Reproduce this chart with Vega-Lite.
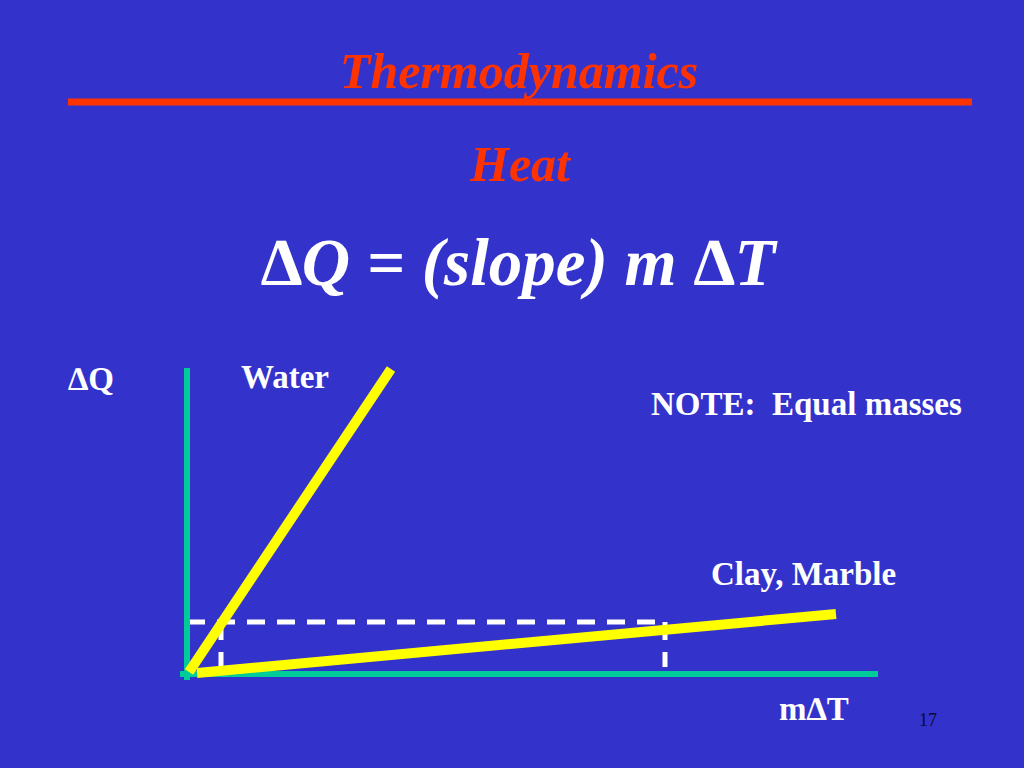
{
  "$schema": "https://vega.github.io/schema/vega-lite/v6.json",
  "width": 1024,
  "height": 768,
  "autosize": {"type": "fit", "contains": "padding"},
  "padding": 0,
  "background": "#3333CC",
  "config": {"view": {"stroke": null}},
  "datasets": {
    "segments": [
      {"kind": "axis", "name": "ΔQ axis", "x": 0, "y": -6, "x2": 0, "y2": 306},
      {"kind": "axis", "name": "mΔT axis", "x": -7, "y": 0, "x2": 691, "y2": 0},
      {"kind": "guide", "name": "equal ΔQ", "x": 0, "y": 52, "x2": 478, "y2": 52},
      {"kind": "guide", "name": "water ΔT", "x": 34, "y": 52, "x2": 34, "y2": 7},
      {"kind": "guide", "name": "clay ΔT", "x": 478, "y": 52, "x2": 478, "y2": 7},
      {"kind": "material", "name": "Water", "x": 2, "y": 2, "x2": 204, "y2": 305},
      {"kind": "material", "name": "Clay, Marble", "x": 10, "y": 1, "x2": 649, "y2": 60},
      {"kind": "underline", "name": "title rule", "x": -119, "y": 572, "x2": 785, "y2": 572}
    ],
    "labels": [
      {"kind": "title", "text": "Thermodynamics", "x": 332, "y": 586},
      {"kind": "subtitle", "text": "Heat", "x": 333, "y": 493},
      {"kind": "equation", "text": "∆Q = (slope) m ∆T", "x": 331, "y": 389},
      {"kind": "label", "text": "∆Q", "x": -119, "y": 284},
      {"kind": "label", "text": "Water", "x": 54, "y": 286},
      {"kind": "label", "text": "NOTE:\u00a0 Equal masses", "x": 464, "y": 259},
      {"kind": "label", "text": "Clay, Marble", "x": 524, "y": 89},
      {"kind": "label", "text": "m∆T", "x": 592, "y": -46},
      {"kind": "page", "text": "17", "x": 732, "y": -52}
    ]
  },
  "encoding": {
    "x": {"field": "x", "type": "quantitative", "scale": {"domain": [-187, 837], "nice": false, "zero": false}, "axis": null},
    "y": {"field": "y", "type": "quantitative", "scale": {"domain": [-94, 674], "nice": false, "zero": false}, "axis": null}
  },
  "layer": [
    {
      "data": {"name": "segments"},
      "transform": [{"filter": "datum.kind === 'underline'"}],
      "mark": {"type": "rule", "color": "#FF3300", "strokeWidth": 7},
      "encoding": {"x2": {"field": "x2"}, "y2": {"field": "y2"}}
    },
    {
      "data": {"name": "segments"},
      "transform": [{"filter": "datum.kind === 'guide'"}],
      "mark": {"type": "rule", "color": "#FFFFFF", "strokeWidth": 5, "strokeDash": [18, 12]},
      "encoding": {"x2": {"field": "x2"}, "y2": {"field": "y2"}}
    },
    {
      "data": {"name": "segments"},
      "transform": [{"filter": "datum.kind === 'axis'"}],
      "mark": {"type": "rule", "color": "#00CC99", "strokeWidth": 6},
      "encoding": {"x2": {"field": "x2"}, "y2": {"field": "y2"}}
    },
    {
      "data": {"name": "segments"},
      "transform": [{"filter": "datum.kind === 'material'"}],
      "mark": {"type": "rule", "color": "#FFFF00", "strokeWidth": 10, "strokeCap": "butt"},
      "encoding": {"x2": {"field": "x2"}, "y2": {"field": "y2"}}
    },
    {
      "data": {"name": "labels"},
      "transform": [{"filter": "datum.kind === 'title' || datum.kind === 'subtitle'"}],
      "mark": {"type": "text", "font": "Liberation Serif", "fontSize": 50, "fontWeight": "bold", "fontStyle": "italic", "color": "#FF3300", "align": "center", "baseline": "alphabetic"},
      "encoding": {"text": {"field": "text"}}
    },
    {
      "data": {"name": "labels"},
      "transform": [{"filter": "datum.kind === 'equation'"}],
      "mark": {"type": "text", "font": "Liberation Serif", "fontSize": 67, "fontWeight": "bold", "fontStyle": "italic", "color": "#FFFFFF", "align": "center", "baseline": "alphabetic"},
      "encoding": {"text": {"field": "text"}}
    },
    {
      "data": {"name": "labels"},
      "transform": [{"filter": "datum.kind === 'label'"}],
      "mark": {"type": "text", "font": "Liberation Serif", "fontSize": 33, "fontWeight": "bold", "color": "#FFFFFF", "align": "left", "baseline": "alphabetic"},
      "encoding": {"text": {"field": "text"}}
    },
    {
      "data": {"name": "labels"},
      "transform": [{"filter": "datum.kind === 'page'"}],
      "mark": {"type": "text", "font": "Liberation Serif", "fontSize": 18, "color": "#0A0A33", "align": "left", "baseline": "alphabetic"},
      "encoding": {"text": {"field": "text"}}
    }
  ]
}
